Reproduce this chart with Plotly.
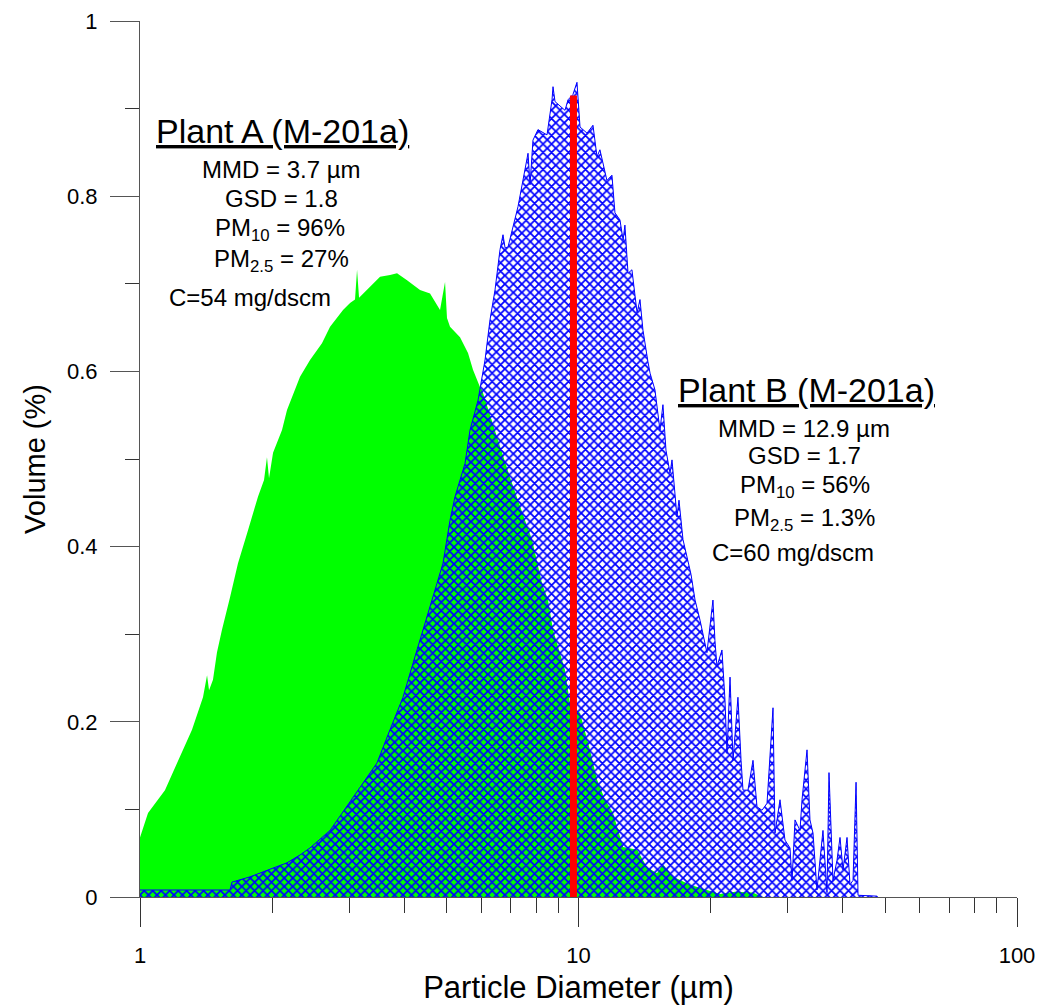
import plotly.graph_objects as go

# ---- Data ----
# Plant A (green, solid fill)
plant_a_d = [1.000, 1.011, 1.043, 1.140, 1.214, 1.314, 1.392, 1.422, 1.437, 1.467,
             1.498, 1.538, 1.604, 1.673, 1.764, 1.858, 1.918, 1.948, 1.969, 2.011,
             2.108, 2.164, 2.317, 2.442, 2.600, 2.713, 2.904, 3.013, 3.093, 3.126,
             3.159, 3.295, 3.527, 3.717, 3.856, 4.064, 4.351, 4.586, 4.833, 4.962,
             5.013, 5.093, 5.368, 5.598, 5.746, 5.963, 6.025, 6.519, 6.980, 7.551,
             7.834, 8.258, 8.520, 8.747, 9.316, 9.563, 10.08, 10.62, 11.02, 11.49,
             11.99, 12.64, 13.60, 14.33, 15.10, 15.58, 16.43, 17.96, 19.63, 21.02,
             22.75, 25.00, 25.94, 26.40]
plant_a_v = [0.068, 0.076, 0.096, 0.122, 0.153, 0.191, 0.228, 0.253, 0.236, 0.248,
             0.279, 0.305, 0.342, 0.381, 0.419, 0.457, 0.476, 0.502, 0.478, 0.507,
             0.533, 0.556, 0.594, 0.613, 0.632, 0.651, 0.670, 0.678, 0.682, 0.716,
             0.684, 0.693, 0.708, 0.710, 0.712, 0.704, 0.693, 0.689, 0.670, 0.702,
             0.661, 0.651, 0.639, 0.621, 0.602, 0.582, 0.579, 0.525, 0.479, 0.430,
             0.408, 0.358, 0.339, 0.305, 0.259, 0.221, 0.210, 0.168, 0.134, 0.111,
             0.096, 0.057, 0.054, 0.034, 0.027, 0.037, 0.023, 0.014, 0.008, 0.0035,
             0.006, 0.005, 0.001, 0.0]

# Plant B (blue cross-hatch)
plant_b_d = [1.000, 1.604, 1.621, 1.782, 2.011, 2.164, 2.317, 2.442, 2.713, 3.061,
             3.471, 3.717, 3.979, 4.195, 4.420, 4.659, 4.909, 5.093, 5.229, 5.511,
             5.657, 5.900, 6.121, 6.283, 6.451, 6.622, 6.727, 6.800, 6.906, 7.278,
             7.672, 7.753, 7.874, 8.083, 8.476, 8.702, 8.747, 8.840, 8.930, 9.316,
             9.463, 9.710, 9.920, 10.08, 10.457, 10.79, 11.02, 11.19, 11.37, 11.61,
             11.92, 12.11, 12.43, 12.64, 12.76, 12.97, 13.24, 13.60, 13.81, 14.03,
             14.40, 14.56, 14.94, 15.34, 15.58, 15.83, 16.17, 16.34, 16.77, 16.95,
             17.31, 17.68, 18.06, 18.44, 18.93, 19.63, 20.26, 20.47, 20.69, 21.24,
             21.58, 21.81, 22.16, 22.51, 23.10, 23.48, 23.72, 24.35, 25.00, 25.53,
             26.21, 26.91, 27.77, 28.06, 28.81, 29.57, 30.36, 30.69, 31.17, 32.00,
             32.34, 33.20, 33.72, 34.26, 34.98, 36.10, 36.87, 37.26, 38.05, 38.86,
             39.48, 40.11, 40.96, 41.61, 42.27, 42.95, 43.40, 47.94, 48.10]
plant_b_v = [0.008, 0.008, 0.017, 0.023, 0.033, 0.039, 0.048, 0.056, 0.076, 0.114,
             0.153, 0.191, 0.228, 0.267, 0.305, 0.342, 0.381, 0.430, 0.457, 0.495,
             0.533, 0.567, 0.613, 0.659, 0.693, 0.739, 0.756, 0.741, 0.742, 0.788,
             0.849, 0.813, 0.864, 0.876, 0.870, 0.910, 0.925, 0.908, 0.906, 0.898,
             0.910, 0.916, 0.930, 0.879, 0.872, 0.881, 0.845, 0.853, 0.838, 0.818,
             0.824, 0.781, 0.773, 0.750, 0.767, 0.712, 0.716, 0.667, 0.682, 0.647,
             0.611, 0.598, 0.579, 0.533, 0.562, 0.510, 0.484, 0.499, 0.434, 0.453,
             0.408, 0.388, 0.368, 0.339, 0.316, 0.279, 0.339, 0.293, 0.263, 0.282,
             0.225, 0.164, 0.251, 0.156, 0.228, 0.156, 0.122, 0.122, 0.156, 0.103,
             0.099, 0.107, 0.216, 0.073, 0.111, 0.065, 0.056, 0.019, 0.088, 0.076,
             0.111, 0.168, 0.088, 0.073, 0.008, 0.076, 0.005, 0.142, 0.019, 0.042,
             0.068, 0.031, 0.068, 0.014, 0.019, 0.131, 0.002, 0.001, 0.0]

# Red vertical marker (10 um cut)
red_d = [9.74, 9.74]
red_v = [0.0, 0.915]

# Tick labels
x_ticks = [1, 10, 100]
x_tick_text = ["1", "10", "100"]
y_ticks = [0, 0.2, 0.4, 0.6, 0.8, 1]
y_tick_text = ["0", "0.2", "0.4", "0.6", "0.8", "1"]

FONT = "Liberation Sans, Arial, sans-serif"

fig = go.Figure()

fig.add_trace(go.Scatter(
    x=plant_a_d, y=plant_a_v, mode="lines", fill="tozeroy",
    line=dict(color="#00ff00", width=0), fillcolor="#00ff00",
    showlegend=False, hoverinfo="skip"))

fig.add_trace(go.Scatter(
    x=plant_b_d, y=plant_b_v, mode="lines", fill="tozeroy",
    line=dict(color="#0000ff", width=1),
    fillcolor="rgba(0,0,0,0)",
    fillpattern=dict(shape="x", fgcolor="#0000ff", bgcolor="rgba(0,0,0,0)",
                     size=6, solidity=0.5, fillmode="replace"),
    showlegend=False, hoverinfo="skip"))

fig.add_trace(go.Scatter(
    x=red_d, y=red_v, mode="lines",
    line=dict(color="#ff0000", width=7),
    showlegend=False, hoverinfo="skip"))

def px2paper(px, py):
    return (px - 140) / 877.0, (897 - py) / 876.0

annots = [
    ("<u>Plant A (M-201a)</u>", 282.5, 131, 34),
    ("MMD = 3.7 µm", 281.5, 169.5, 24),
    ("GSD = 1.8", 281, 198, 24),
    ("PM<sub>10</sub> = 96%", 280, 229, 24),
    ("PM<sub>2.5</sub> = 27%", 281, 260, 24),
    ("C=54 mg/dscm", 250, 297, 24),
    ("<u>Plant B (M-201a)</u>", 806, 389.5, 34),
    ("MMD = 12.9 µm", 804, 428, 24),
    ("GSD = 1.7", 804.5, 455.5, 24),
    ("PM<sub>10</sub> = 56%", 805, 486.5, 24),
    ("PM<sub>2.5</sub> = 1.3%", 804.5, 519, 24),
    ("C=60 mg/dscm", 792.5, 552.5, 24),
]
for text, px, py, size in annots:
    xp, yp = px2paper(px, py)
    fig.add_annotation(text=text, x=xp, y=yp, xref="paper", yref="paper",
                       xanchor="center", yanchor="middle", showarrow=False,
                       font=dict(family=FONT, size=size, color="black"))

fig.update_layout(
    width=1053, height=1005,
    margin=dict(l=140, r=36, t=21, b=108, autoexpand=False),
    paper_bgcolor="white", plot_bgcolor="white",
    font=dict(family=FONT, color="black"),
)

fig.update_xaxes(
    type="log", range=[0, 2], automargin=False,
    tickvals=x_ticks, ticktext=x_tick_text,
    showgrid=False, zeroline=False,
    showline=True, linecolor="#555555", linewidth=1,
    ticks="outside", ticklen=29, tickwidth=1, tickcolor="#333333",
    ticklabelstandoff=10,
    tickfont=dict(family=FONT, size=22),
    minor=dict(ticks="outside", ticklen=15, tickwidth=1, tickcolor="#333333",
               dtick="D1", showgrid=False),
    title=dict(text="Particle Diameter (µm)", font=dict(family=FONT, size=31),
               standoff=14),
)

fig.update_yaxes(
    range=[0, 1], automargin=False,
    tickvals=y_ticks, ticktext=y_tick_text,
    showgrid=False, zeroline=False,
    showline=True, linecolor="#555555", linewidth=1,
    ticks="outside", ticklen=29, tickwidth=1, tickcolor="#555555",
    ticklabelstandoff=8,
    tickfont=dict(family=FONT, size=22),
    minor=dict(ticks="outside", ticklen=14, tickwidth=1, tickcolor="#333333",
               dtick=0.1, showgrid=False),
    title=dict(text="Volume (%)", font=dict(family=FONT, size=29), standoff=12),
)

fig.write_html("out.html")
